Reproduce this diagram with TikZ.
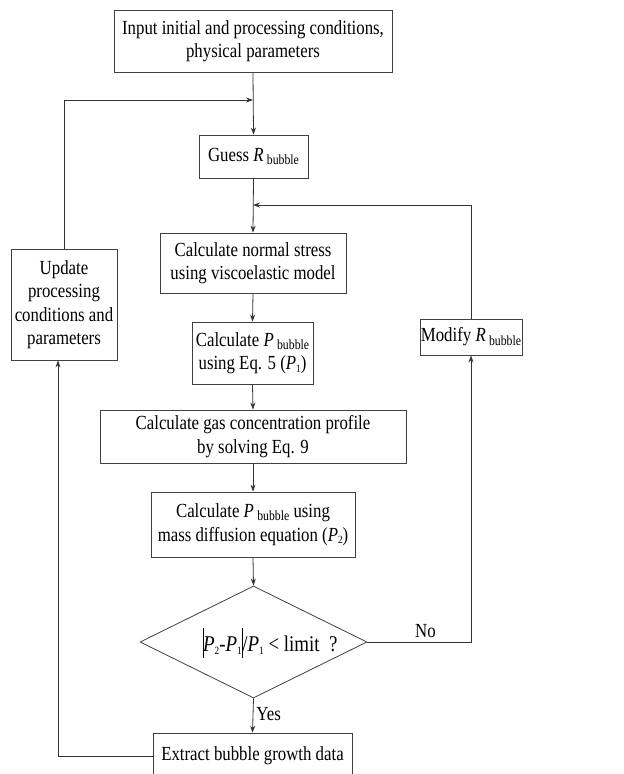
\documentclass[tikz,border=0pt]{standalone}
\usepackage{fontspec}
\setmainfont{Liberation Serif}[FakeStretch=0.84]
\usetikzlibrary{arrows.meta,shapes.geometric}
\newcommand\subtx[1]{\raisebox{-0.35ex}{\fontsize{14}{14}\selectfont #1}}
\newcommand\subdg[1]{\raisebox{-0.3ex}{\fontsize{11}{11}\selectfont #1}}
\newcommand\Rbub{\textit{R}\,\subtx{bubble}}
\newcommand\Pbub{\textit{P}\,\subtx{bubble}}
\newcommand\absbar{\rule[-0.3em]{0.6pt}{1.35em}}
\begin{document}
\begin{tikzpicture}[x=1pt,y=-1pt,
  font=\fontsize{20}{23.5}\selectfont,
  box/.style={draw=black!75, line width=0.8pt, align=center, inner sep=0pt, fill=white},
  arr/.style={-{Stealth[length=7pt,width=5pt]}, line width=0.8pt, draw=black!80},
  ln/.style={line width=0.8pt, draw=black!80}]
\useasboundingbox (0,0) rectangle (624,774);
\fill[white] (0,0) rectangle (624,774);

\node[box, minimum width=278pt, minimum height=62pt] (in) at (253,41)
  {Input initial and processing conditions,\\physical parameters};
\node[box, minimum width=109pt, minimum height=43pt] (guess) at (253.5,156.5) {Guess \Rbub};
\node[box, minimum width=186pt, minimum height=60pt] (stress) at (253,263)
  {Calculate normal stress\\using viscoelastic model};
\node[box, minimum width=106pt, minimum height=111pt] (upd) at (64,304.5)
  {Update\\processing\\conditions and\\parameters};
\node[box, minimum width=121pt, minimum height=62pt] (pbub) at (252.5,353)
  {Calculate \Pbub\\using Eq. 5 (\textit{P}\subdg{1})};
\node[box, minimum width=102pt, minimum height=36pt] (mod) at (471,337) {Modify \Rbub};
\node[box, minimum width=306pt, minimum height=53pt] (gas) at (253,436.5)
  {Calculate gas concentration profile\\by solving Eq. 9};
\node[box, minimum width=204pt, minimum height=65pt] (ptwo) at (253,524.5)
  {Calculate \Pbub{} using\\mass diffusion equation (\textit{P}\subdg{2})};
\node[draw=black!75, line width=0.8pt, diamond, minimum width=227pt, minimum height=112pt, inner sep=0pt] (dia) at (253.5,642) {};
\node[font=\fontsize{22.5}{26}\selectfont] (ftxt) at (270,643)
  {\absbar\textit{P}\subdg{2}-\textit{P}\subdg{1}\absbar/\textit{P}\subdg{1} < limit\ \ ?};
\node[box, minimum width=199pt, minimum height=46pt] (ext) at (252.5,756)
  {Extract bubble growth data};

\coordinate (j1) at (253,100);
\coordinate (j2) at (253,205);

\draw[arr] (in.south) -- (guess.north);
\draw[arr] (upd.north) |- (j1);
\draw[arr] (guess.south) -- (stress.north);
\draw[arr] (mod.north) |- (j2);
\draw[arr] (stress.south) -- (pbub.north);
\draw[arr] (pbub.south) -- (gas.north);
\draw[arr] (gas.south) -- (ptwo.north);
\draw[arr] (ptwo.south) -- (dia.north);
\draw[arr] (dia.south) -- node[right, inner sep=3pt, pos=0.45] {Yes} (ext.north);
\draw[arr] (dia.east) -| node[pos=0.28, above, inner sep=4pt] {No} (mod.south);
\draw[arr] (ext.west) -| ([xshift=-6pt]upd.south);
\end{tikzpicture}
\end{document}
